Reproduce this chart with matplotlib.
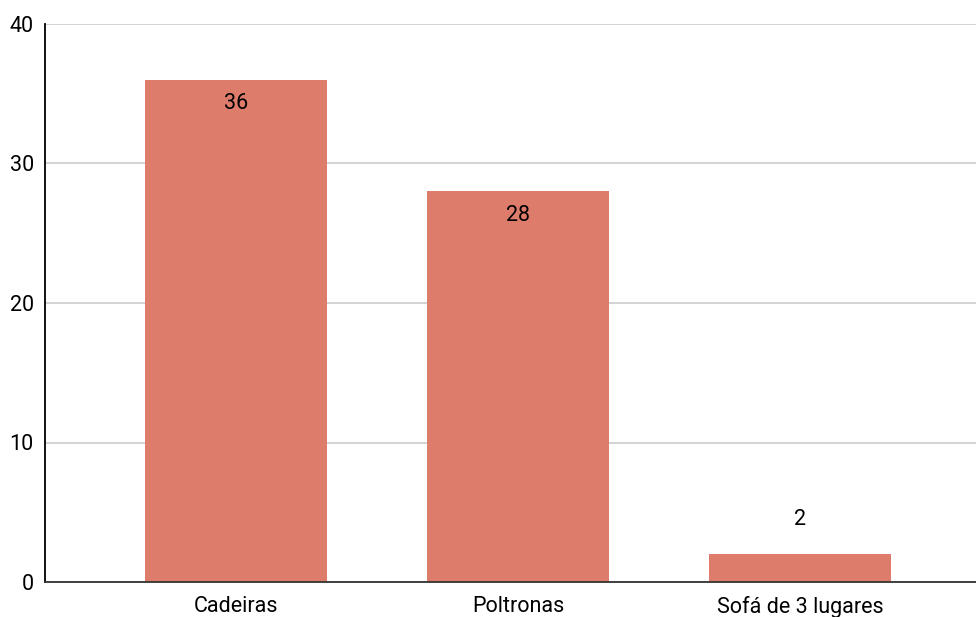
import matplotlib.pyplot as plt

# dados
categorias = ['Cadeiras', 'Poltronas', 'Sofá de 3 lugares']
valores = [36, 28, 2]
yticks = [0, 10, 20, 30, 40]

plt.rcParams['font.family'] = ['Roboto', 'DejaVu Sans']

fig = plt.figure(figsize=(9.76, 6.17), dpi=100)
ax = fig.add_axes([45 / 976, 35 / 617, 1 - 45 / 976, 558 / 617])

x = range(len(categorias))
bars = ax.bar(x, valores, width=0.645, color='#DD7C6A', zorder=3)

# rótulos dos valores
for xi, v in zip(x, valores):
    if v > 5:
        ax.annotate(str(v), (xi, v), xytext=(0, -17), textcoords='offset points',
                    ha='center', va='center', fontsize=15.5, color='black', zorder=4)
    else:
        ax.annotate(str(v), (xi, v), xytext=(0, 25), textcoords='offset points',
                    ha='center', va='center', fontsize=15.5, color='black', zorder=4)

ax.set_xlim(-0.677, 2.624)
ax.set_ylim(0, 40)
ax.set_yticks(yticks)
ax.set_xticks(list(x))
ax.set_xticklabels(categorias)
ax.tick_params(axis='both', length=0, labelsize=15.5, colors='black')
ax.tick_params(axis='y', pad=8)
ax.tick_params(axis='x', pad=10)

ax.grid(axis='y', color='#cccccc', linewidth=1.2, zorder=0)
for s in ['top', 'right']:
    ax.spines[s].set_visible(False)
ax.spines['left'].set_color('black')
ax.spines['left'].set_linewidth(1.3)
ax.spines['bottom'].set_color('#333333')
ax.spines['bottom'].set_linewidth(1.3)
ax.spines['left'].set_zorder(5)
ax.spines['bottom'].set_zorder(5)

plt.savefig('out.png', dpi=100)
